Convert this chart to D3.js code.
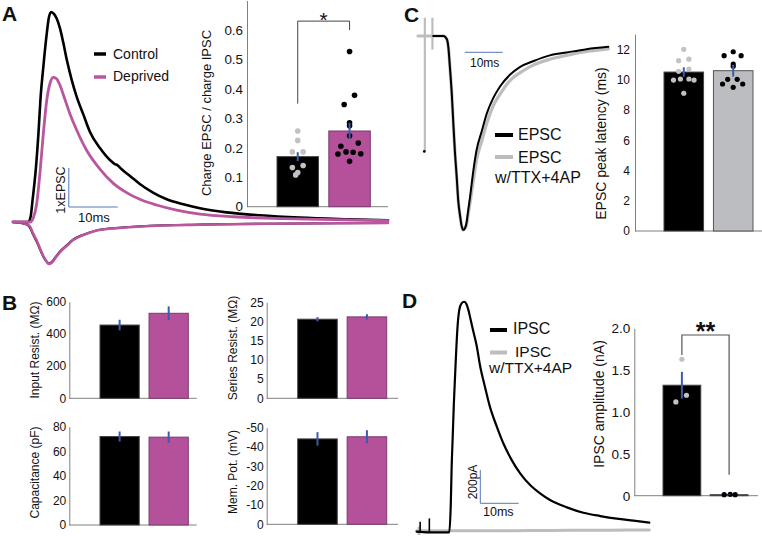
<!DOCTYPE html>
<html><head><meta charset="utf-8">
<script src="https://cdn.jsdelivr.net/npm/d3@7"></script>
<style>
body{margin:0;background:#fff}
svg{display:block}
text{font-family:"Liberation Sans",Arial,Helvetica,sans-serif;fill:#111}
</style>
</head><body>
<svg id="fig" width="762" height="536"></svg>
<script>
// ================= DATA =================
// Panel A traces (time in ms, amplitude normalised to control EPSC peak)
const aCtrlT = [0,3.1,3.6,4.0,4.7,5.2,5.6,6.2,6.9,7.3,7.8,8.4,8.9,9.6,10.3,11.0,12.0,13.0,14.4,15.7,17.8,19.8,20.8,21.3,22.2,23.9,25.9,28.6,31.4,34.8,38.2,43.6,50.4,58.6,68.8,76.6];
const aCtrlEPSC = [0,0,0.025,0.105,0.263,0.422,0.581,0.74,0.898,0.97,1.0,0.99,0.97,0.922,0.851,0.771,0.676,0.597,0.51,0.43,0.351,0.295,0.276,0.271,0.251,0.219,0.181,0.14,0.108,0.084,0.065,0.046,0.032,0.021,0.013,0.008];
const aDepT = [0,3.5,4.1,4.8,5.5,6.2,6.9,7.6,8.2,8.8,9.5,10.3,11.6,13.0,15.0,17.8,20.5,23.2,25.9,29.3,33.4,38.2,45.0,55.2,65.4,76.6];
const aDepEPSC = [0,0,0.017,0.081,0.232,0.422,0.581,0.663,0.689,0.684,0.657,0.605,0.517,0.438,0.343,0.251,0.184,0.14,0.108,0.081,0.057,0.038,0.025,0.016,0.011,0.006];
const aIpscT = [0,2.8,3.5,4.1,4.8,5.5,6.2,6.9,7.3,7.9,8.6,9.6,11.0,12.3,14.4,17.1,21.2,28.0,38.2,51.8,65.4,76.6];
const aDepIPSC = [0,-0.01,-0.022,-0.054,-0.086,-0.125,-0.162,-0.189,-0.2,-0.194,-0.173,-0.144,-0.113,-0.086,-0.062,-0.041,-0.029,-0.019,-0.013,-0.008,-0.006,-0.005];
const aCtrlIPSC = [0,-0.012,-0.028,-0.06,-0.092,-0.13,-0.165,-0.19,-0.198,-0.19,-0.17,-0.14,-0.11,-0.084,-0.06,-0.04,-0.028,-0.018,-0.012,-0.008,-0.006,-0.005];
const aScaleMs = 10, aScaleAmp = 0.186;

// Panel A bars: charge EPSC / charge IPSC
const aGroups = ["Control","Deprived"];
const aChargeMean = [0.170, 0.257];
const aChargeSem = [0.015, 0.028];
const aCtrlPts = [0.257,0.225,0.186,0.186,0.140,0.133,0.116,0.108];
const aCtrlJit = [0,0,-0.13,0.13,0.13,-0.13,0,-0.05];
const aDepPts = [0.527,0.378,0.347,0.285,0.275,0.241,0.216,0.205,0.186,0.185,0.180,0.179,0.154];
const aDepJit = [0,0.12,-0.13,0,0,0,0.21,-0.21,-0.085,0.085,0.27,-0.28,0];
const aTicks = [0,0.1,0.2,0.3,0.4,0.5,0.6];

// Panel B: passive properties (Control, Deprived)
const bInputRes = [455, 528],  bInputResSem = [33, 43];
const bSeriesRes = [20.6, 21.2], bSeriesResSem = [0.55, 0.7];
const bCap = [72, 71.5], bCapSem = [4.1, 4.6];
const bMemPot = [-44.2, -45.3], bMemPotSem = [3.5, 3.4];
const bInputTicks = [0,200,400,600];
const bSeriesTicks = [0,5,10,15,20,25];
const bCapTicks = [0,20,40,60,80];
const bMemTicks = [0,-10,-20,-30,-40,-50];

// Panel C traces (time ms, normalised amplitude)
const cTtxT = [0,6.7,7.6,8.0,8.4,8.9,9.3,9.7,10.2,10.6,11.1,11.5,11.9,12.4,12.8,13.2,13.7,14.6,15.4,16.8,18.1,19.8,21.6,24.2,26.8,30.3,34.7,39.1,44.4,50.1];
const cTtx = [0,0,-0.017,-0.06,-0.16,-0.30,-0.45,-0.59,-0.73,-0.85,-0.93,-0.98,-1.0,-0.99,-0.97,-0.92,-0.86,-0.74,-0.64,-0.54,-0.45,-0.36,-0.30,-0.23,-0.19,-0.15,-0.12,-0.10,-0.08,-0.066];
const cEpscT = [4.0,6.7,7.6,8.0,8.4,8.9,9.3,9.7,10.2,10.6,11.1,11.5,11.9,12.4,12.8,13.2,13.7,14.6,15.4,16.8,18.1,19.8,21.6,24.2,26.8,30.3,34.7,39.1,44.4,50.1];
const cEpsc = [0,0,-0.017,-0.06,-0.16,-0.30,-0.45,-0.59,-0.73,-0.85,-0.93,-0.98,-1.0,-0.99,-0.96,-0.90,-0.83,-0.69,-0.59,-0.49,-0.40,-0.32,-0.26,-0.20,-0.16,-0.13,-0.10,-0.085,-0.068,-0.056];
const cArtT = [1.8, 3.8], cArtTop = [0.094, 0.094], cArtBot = [-0.59, -0.07];
const cScaleMs = 10;

// Panel C bars: EPSC peak latency (ms)
const cGroups = ["EPSC","EPSC w/TTX+4AP"];
const cLatMean = [10.5, 10.59];
const cLatSem = [0.31, 0.39];
const cCtrlPts = [12.0,11.25,11.35,10.55,10.7,9.97,10.04,10.04,9.97,9.1];
const cCtrlJit = [0,-0.13,0.13,-0.13,0.13,-0.26,-0.085,0.13,0.26,0];
const cTtxPts = [11.84,11.58,11.58,11.03,10.88,10.02,10.02,9.71,9.71,9.49];
const cTtxJit = [0,-0.23,0.2,0,0,-0.14,0.1,-0.27,0.24,0];
const cTicks = [0,2,4,6,8,10,12];

// Panel D traces (time ms, current pA)
const dIpscT = [0,3.0,8.5,8.9,9.1,9.4,9.7,10.2,10.6,11.1,11.7,12.4,12.9,13.5,14.1,14.8,15.7,16.5,17.8,19.1,20.9,22.6,24.8,27.0,29.6,32.2,34.8,39.2,43.5,47.9,52.2,56.6,60.7];
const dIpsc = [0,-4,-4,170,370,570,771,1031,1211,1331,1371,1381,1371,1331,1271,1201,1111,1001,871,751,631,531,430,350,280,230,190,146,114,94,78,66,54];
const dTtxT = [0,10,20,30,40,50,60.7];
const dTtx = [6,6,6,7,8,9,10];
const dSpikeT = [0.9, 3.3], dSpikePA = [60, 80];
const dTtxArtT = [0.6], dTtxArtLo = [-20], dTtxArtHi = [30];
const dScaleMs = 10, dScalePA = 200;

// Panel D bars: IPSC amplitude (nA)
const dGroups = ["IPSC","IPSC w/TTX+4AP"];
const dAmpMean = [1.32, 0.012];
const dAmpSem = [0.16, 0.004];
const dCtrlPts = [1.63, 1.12, 1.20];
const dCtrlJit = [0, -0.16, 0.12];
const dTtxPts = [0.012, 0.016, 0.012];
const dTtxJit = [-0.13, 0.03, 0.16];
const dTicks = [0,0.5,1.0,1.5,2.0];

// ================= STYLE =================
const PINK = "#b5509b", PINK_LINE = "#b9569f", PINK_EDGE = "#7a3a6c";
const GREY_BAR = "#bcbdc0", GREY_PT = "#c2c2c2", GREY_TRACE = "#bdbdbd";
const BLUE = "#3d5ba9", SCALE_BLUE = "#5577bb", AXIS = "#808080";

const svg = d3.select("#fig");
svg.append("rect").attr("width",762).attr("height",536).attr("fill","#fff");

function txt(x, y, s, size, opts = {}) {
  const t = svg.append("text").attr("x", x).attr("y", y).text(s)
    .style("font-size", size + "px");
  if (opts.weight) t.style("font-weight", opts.weight);
  if (opts.anchor) t.attr("text-anchor", opts.anchor);
  if (opts.fill) t.style("fill", opts.fill);
  return t;
}
function rtxt(x, cy, s, size) {
  return svg.append("text").attr("transform", `translate(${x},${cy}) rotate(-90)`)
    .attr("text-anchor", "middle").style("font-size", size + "px").text(s);
}
function trace(xs, ys, T, V, color, width, curve = d3.curveMonotoneX) {
  const line = d3.line().x((d, i) => xs(T[i])).y(d => ys(d)).curve(curve);
  svg.append("path").datum(V).attr("d", line).attr("fill", "none")
    .attr("stroke", color).attr("stroke-width", width)
    .attr("stroke-linejoin", "round").attr("stroke-linecap", "round");
}
function vseg(x, y1, y2, color, width) {
  svg.append("line").attr("x1", x).attr("x2", x).attr("y1", y1).attr("y2", y2)
    .attr("stroke", color).attr("stroke-width", width);
}
function hseg(x1, x2, y, color, width) {
  svg.append("line").attr("x1", x1).attr("x2", x2).attr("y1", y).attr("y2", y)
    .attr("stroke", color).attr("stroke-width", width);
}

function barChart(o) {
  const g = svg.append("g");
  const xb = d3.scaleBand().domain(o.cats).range(o.band).paddingInner(0.2).paddingOuter(0);
  const y = o.y;
  const base = y(0);
  const ax = g.append("g").attr("transform", `translate(${o.x0},0)`)
    .call(d3.axisLeft(y).tickValues(o.ticks).tickSize(0).tickSizeOuter(0)
      .tickPadding(o.pad || 4).tickFormat(o.fmt));
  ax.select(".domain").attr("stroke", AXIS);
  ax.selectAll("text").style("font-size", o.tickSize + "px")
    .style("font-family", '"Liberation Sans",Arial,sans-serif').style("fill", "#111");
  g.append("line").attr("x1", o.x0).attr("x2", o.x1).attr("y1", base).attr("y2", base)
    .attr("stroke", AXIS).attr("stroke-width", 1);
  g.selectAll("rect.bar").data(o.means).join("rect")
    .attr("x", (d, i) => xb(o.cats[i]))
    .attr("width", xb.bandwidth())
    .attr("y", d => Math.min(y(d), base))
    .attr("height", d => Math.abs(base - y(d)))
    .attr("fill", (d, i) => o.fills[i]).attr("stroke", (d, i) => o.edges[i]).attr("stroke-width", 1);
  (o.points || []).forEach((set, i) => {
    const cx = xb(o.cats[i]) + xb.bandwidth() / 2;
    g.selectAll(null).data(set.v).join("circle")
      .attr("cx", (d, k) => cx + set.j[k] * xb.bandwidth())
      .attr("cy", d => y(d)).attr("r", o.r || 2.6).attr("fill", set.c);
  });
  o.means.forEach((m, i) => {
    const cx = xb(o.cats[i]) + xb.bandwidth() / 2;
    g.append("line").attr("x1", cx).attr("x2", cx)
      .attr("y1", y(m - o.sems[i])).attr("y2", y(m + o.sems[i]))
      .attr("stroke", BLUE).attr("stroke-width", 2);
  });
  rtxt(o.labelX, o.labelY, o.label, o.labelSize);
  return { xb, y };
}
const fmt1 = t => t === 0 ? "0" : t.toFixed(1);
const fmt0 = t => String(t);

// ================= PANEL A =================
txt(2, 21, "A", 21, { weight: "bold" });
const axA = d3.scaleLinear().domain([0, 76.6]).range([13, 388]);
const ayA = d3.scaleLinear().domain([0, 1]).range([222, 12]);
trace(axA, ayA, aIpscT, aCtrlIPSC, "#000", 2);
trace(axA, ayA, aIpscT, aDepIPSC, PINK_LINE, 2.6);
trace(axA, ayA, aCtrlT, aCtrlEPSC, "#000", 2.6);
trace(axA, ayA, aDepT, aDepEPSC, PINK_LINE, 2.8);
{
  const x0 = axA(11.4), y0 = 207;
  vseg(x0, y0, y0 - (ayA(0) - ayA(aScaleAmp)), SCALE_BLUE, 1);
  hseg(x0, x0 + (axA(aScaleMs) - axA(0)), y0, SCALE_BLUE, 1);
  svg.append("text").attr("transform", `translate(65,190) rotate(-90)`)
    .attr("text-anchor", "middle").style("font-size", "12.5px").text("1xEPSC");
  txt(78, 222, "10ms", 13);
}
hseg(94, 106, 54, "#000", 3.5);
txt(113, 58.5, "Control", 14);
hseg(94, 106, 77, PINK_LINE, 3.5);
txt(113, 80.5, "Deprived", 14);

const barA = barChart({
  cats: aGroups, band: [277, 370.3], x0: 247, x1: 388,
  y: d3.scaleLinear().domain([0, 0.7]).range([206.7, 0.5]),
  ticks: aTicks, fmt: fmt1, tickSize: 13.4, pad: 4,
  means: aChargeMean, sems: aChargeSem,
  fills: ["#000", PINK], edges: ["#444", PINK_EDGE],
  points: [{ v: aCtrlPts, j: aCtrlJit, c: GREY_PT }, { v: aDepPts, j: aDepJit, c: "#000" }],
  r: 2.8, label: "Charge EPSC / charge IPSC", labelX: 211, labelY: 113, labelSize: 13
});
{
  const c1 = barA.xb(aGroups[0]) + barA.xb.bandwidth() / 2;
  const c2 = barA.xb(aGroups[1]) + barA.xb.bandwidth() / 2;
  const yb = barA.y(0.63);
  const p = d3.path();
  p.moveTo(c1, barA.y(0.35)); p.lineTo(c1, yb); p.lineTo(c2, yb); p.lineTo(c2, barA.y(0.6));
  svg.append("path").attr("d", p.toString()).attr("fill", "none").attr("stroke", "#444").attr("stroke-width", 1);
  txt((c1 + c2) / 2, 27, "*", 21, { anchor: "middle" });
}

// ================= PANEL B =================
txt(2, 310, "B", 21, { weight: "bold" });
const bCats = ["Control", "Deprived"];
const bFills = ["#000", PINK], bEdges = ["#444", PINK_EDGE];
barChart({
  cats: bCats, band: [100, 188.3], x0: 69.3, x1: 196.7,
  y: d3.scaleLinear().domain([0, 600]).range([398.3, 301.7]),
  ticks: bInputTicks, fmt: fmt0, tickSize: 12, pad: 3,
  means: bInputRes, sems: bInputResSem, fills: bFills, edges: bEdges,
  label: "Input Resist. (MΩ)", labelX: 39, labelY: 350, labelSize: 12
});
barChart({
  cats: bCats, band: [297.7, 386.7], x0: 266.7, x1: 398,
  y: d3.scaleLinear().domain([0, 25]).range([398.3, 302.3]),
  ticks: bSeriesTicks, fmt: fmt0, tickSize: 12, pad: 3,
  means: bSeriesRes, sems: bSeriesResSem, fills: bFills, edges: bEdges,
  label: "Series Resist. (MΩ)", labelX: 237, labelY: 348, labelSize: 12
});
barChart({
  cats: bCats, band: [100, 188.3], x0: 69.3, x1: 196.7,
  y: d3.scaleLinear().domain([0, 80]).range([525, 426.7]),
  ticks: bCapTicks, fmt: fmt0, tickSize: 12, pad: 3,
  means: bCap, sems: bCapSem, fills: bFills, edges: bEdges,
  label: "Capacitance (pF)", labelX: 39, labelY: 472.5, labelSize: 12
});
barChart({
  cats: bCats, band: [297.7, 386.7], x0: 266.7, x1: 398,
  y: d3.scaleLinear().domain([0, -50]).range([524.3, 427.7]),
  ticks: bMemTicks, fmt: fmt0, tickSize: 12, pad: 3,
  means: bMemPot, sems: bMemPotSem, fills: bFills, edges: bEdges,
  label: "Mem. Pot. (mV)", labelX: 237, labelY: 472, labelSize: 12
});

// ================= PANEL C =================
txt(404, 22, "C", 21, { weight: "bold" });
const axC = d3.scaleLinear().domain([0, 50.1]).range([418, 608.3]);
const ayC = d3.scaleLinear().domain([0, -1]).range([36, 230]);
cArtT.forEach((t, i) => vseg(axC(t), ayC(cArtTop[i]), ayC(cArtBot[i]), GREY_TRACE, 2.2));
svg.append("circle").attr("cx", axC(cArtT[0]) - 0.5).attr("cy", ayC(cArtBot[0]) + 1).attr("r", 1.4).attr("fill", "#000");
trace(axC, ayC, cTtxT, cTtx, GREY_TRACE, 3.2);
trace(axC, ayC, cEpscT, cEpsc, "#000", 2);
hseg(axC(12.3), axC(12.3 + cScaleMs), 52.3, SCALE_BLUE, 1);
txt(470, 67, "10ms", 12);
hseg(495, 513, 135, "#000", 4);
txt(518, 140, "EPSC", 16);
hseg(495, 513, 157, GREY_TRACE, 4);
txt(518, 163, "EPSC", 16);
txt(495, 183, "w/TTX+4AP", 16);

barChart({
  cats: cGroups, band: [664, 753], x0: 635, x1: 762,
  y: d3.scaleLinear().domain([0, 13]).range([231, 34.2]),
  ticks: cTicks, fmt: fmt0, tickSize: 12, pad: 5,
  means: cLatMean, sems: cLatSem, fills: ["#000", GREY_BAR], edges: ["#444", "#555"],
  points: [{ v: cCtrlPts, j: cCtrlJit, c: GREY_PT }, { v: cTtxPts, j: cTtxJit, c: "#000" }],
  r: 2.6, label: "EPSC peak latency (ms)", labelX: 606, labelY: 143.5, labelSize: 14
});

// ================= PANEL D =================
txt(402, 308, "D", 21, { weight: "bold" });
const axD = d3.scaleLinear().domain([0, 60.7]).range([416.7, 649.3]);
const ayD = d3.scaleLinear().domain([0, 200]).range([531.7, 498.4]);
dTtxArtT.forEach((t, i) => vseg(axD(t), ayD(dTtxArtLo[i]), ayD(dTtxArtHi[i]), GREY_TRACE, 3));
trace(axD, ayD, dTtxT, dTtx, GREY_TRACE, 3);
dSpikeT.forEach((t, i) => vseg(axD(t), ayD(0), ayD(dSpikePA[i]), "#000", 1.6));
trace(axD, ayD, dIpscT, dIpsc, "#000", 2.2);
{
  const x0 = axD(16.6), y0 = 503.3;
  vseg(x0, y0, y0 - (ayD(0) - ayD(dScalePA)), SCALE_BLUE, 1);
  hseg(x0, x0 + (axD(dScaleMs) - axD(0)), y0, SCALE_BLUE, 1);
  svg.append("text").attr("transform", `translate(477,482) rotate(-90)`)
    .attr("text-anchor", "middle").style("font-size", "12px").text("200pA");
  txt(483, 516, "10ms", 12.5);
}
hseg(490, 507, 330, "#000", 4);
txt(513, 334, "IPSC", 16);
hseg(490, 507, 352.5, GREY_TRACE, 4);
txt(515, 356.5, "IPSC", 15.5);
txt(489, 373, "w/TTX+4AP", 15.5);

const barD = barChart({
  cats: dGroups, band: [663, 748], x0: 634.3, x1: 758,
  y: d3.scaleLinear().domain([0, 2]).range([495.7, 328.3]),
  ticks: dTicks, fmt: fmt1, tickSize: 13.5, pad: 4,
  means: dAmpMean, sems: dAmpSem, fills: ["#000", "#000"], edges: ["#444", "#444"],
  points: [{ v: dCtrlPts, j: dCtrlJit, c: GREY_PT }, { v: dTtxPts, j: dTtxJit, c: "#000" }],
  r: 2.6, label: "IPSC amplitude (nA)", labelX: 604, labelY: 404, labelSize: 14
});
{
  const c1 = barD.xb(dGroups[0]) + barD.xb.bandwidth() / 2;
  const c2 = barD.xb(dGroups[1]) + barD.xb.bandwidth() / 2;
  const yb = barD.y(1.92);
  const p = d3.path();
  p.moveTo(c1, barD.y(1.68)); p.lineTo(c1, yb); p.lineTo(c2, yb); p.lineTo(c2, barD.y(0.25));
  svg.append("path").attr("d", p.toString()).attr("fill", "none").attr("stroke", "#555").attr("stroke-width", 1.2);
  txt((c1 + c2) / 2, 340, "**", 25, { anchor: "middle", weight: "bold" });
}
</script>
</body></html>
